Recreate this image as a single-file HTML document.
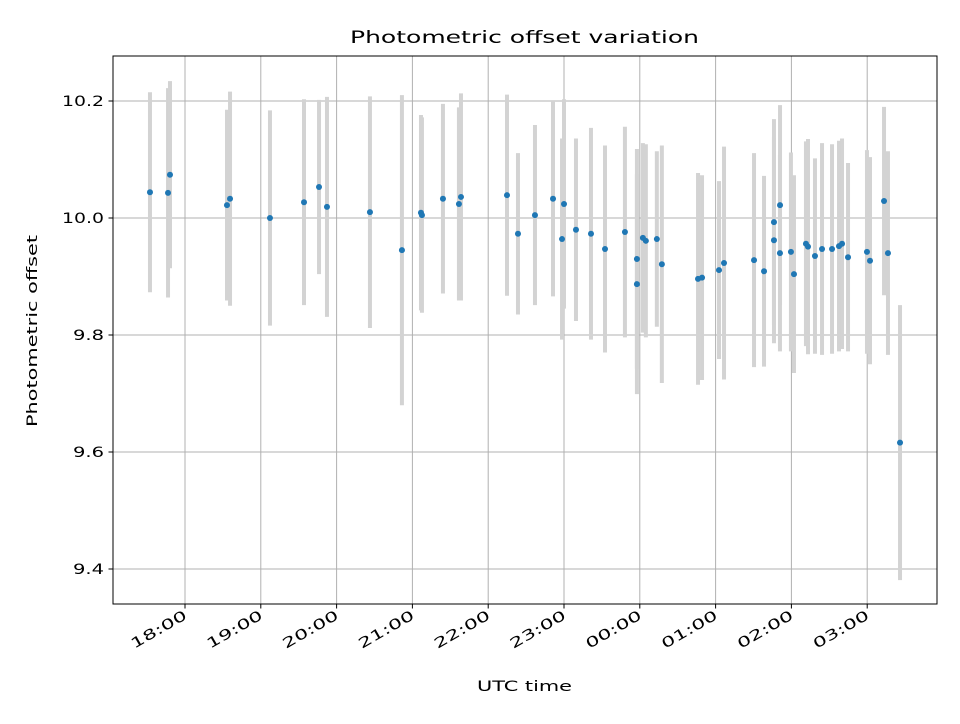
<!DOCTYPE html>
<html><head><meta charset="utf-8"><style>
body{margin:0;background:#fff;font-family:"DejaVu Sans","Liberation Sans",sans-serif;}
svg text{font-family:"DejaVu Sans","Liberation Sans",sans-serif;}
</style></head><body>
<svg id="chart" width="960" height="720" xmlns="http://www.w3.org/2000/svg">
<rect width="960" height="720" fill="#fff"/>
<text x="350" y="43" font-size="17" textLength="349" lengthAdjust="spacingAndGlyphs">Photometric offset variation</text>
<g id="grid"></g>
<g id="bars"></g>
<g id="points"></g>
<rect x="113" y="56" width="824" height="548" fill="none" stroke="#000" stroke-width="1"/>
<g id="axes"></g>
<text x="477" y="691" font-size="14.5" textLength="95" lengthAdjust="spacingAndGlyphs">UTC time</text>
<text transform="translate(37,427) rotate(-90)" font-size="14.5" textLength="192" lengthAdjust="spacingAndGlyphs">Photometric offset</text>
</svg>
<script>
// hours relative to 18:00 UTC
const times=[-0.462,-0.224,-0.198,0.554,0.594,1.121,1.570,1.768,1.873,2.440,2.862,3.113,3.126,3.403,3.614,3.641,4.248,4.393,4.617,4.855,4.974,5.000,5.158,5.356,5.541,5.804,5.962,5.962,6.041,6.080,6.225,6.291,6.768,6.821,7.045,7.111,7.507,7.639,7.770,7.770,7.850,7.849,7.994,8.034,8.192,8.219,8.311,8.404,8.536,8.628,8.668,8.747,8.997,9.037,9.222,9.274,9.433];
const values=[10.044,10.043,10.074,10.022,10.033,10.000,10.027,10.053,10.019,10.010,9.945,10.009,10.005,10.033,10.024,10.036,10.039,9.973,10.005,10.033,9.964,10.024,9.980,9.973,9.947,9.976,9.930,9.887,9.966,9.961,9.964,9.921,9.896,9.898,9.911,9.923,9.928,9.909,9.962,9.993,10.022,9.940,9.942,9.904,9.956,9.951,9.935,9.947,9.947,9.952,9.956,9.933,9.942,9.927,10.029,9.940,9.616];
const errors=[0.171,0.179,0.160,0.163,0.183,0.184,0.176,0.149,0.188,0.198,0.265,0.167,0.167,0.162,0.165,0.177,0.172,0.138,0.154,0.167,0.172,0.179,0.156,0.181,0.177,0.180,0.188,0.188,0.162,0.165,0.150,0.203,0.181,0.175,0.152,0.199,0.183,0.163,0.176,0.176,0.171,0.168,0.170,0.169,0.175,0.184,0.167,0.181,0.179,0.180,0.180,0.161,0.174,0.177,0.161,0.174,0.235];
const xTicks=[0,1,2,3,4,5,6,7,8,9];
const xTickLabels=["18:00","19:00","20:00","21:00","22:00","23:00","00:00","01:00","02:00","03:00"];
const yTicks=[9.4,9.6,9.8,10.0,10.2];
const yTickLabels=["9.4","9.6","9.8","10.0","10.2"];
const NS="http://www.w3.org/2000/svg";
const X=h=>185+h*75.8;
const Y=v=>101+(10.2-v)*585;
function mk(t,a,p){const e=document.createElementNS(NS,t);for(const k in a)e.setAttribute(k,a[k]);p.appendChild(e);return e;}
const grid=document.getElementById('grid'),axes=document.getElementById('axes'),bars=document.getElementById('bars'),pts=document.getElementById('points');
xTicks.forEach((h,i)=>{const x=X(h);
 const g=mk('line',{x1:x,x2:x,y1:56,y2:604,stroke:'#b0b0b0','stroke-width':1},grid);
 
 
 const t=mk('line',{x1:x,x2:x,y1:604,y2:608.5,stroke:'#000'},axes);
 
 
 const l=mk('text',{x:-62,y:0,'font-size':'14',textLength:'62',lengthAdjust:'spacingAndGlyphs',transform:`translate(${x+3},${618}) rotate(-30)`},axes);
 l.textContent=xTickLabels[i];
 
 
});
yTicks.forEach((v,i)=>{const y=Y(v);
 const g=mk('line',{x1:113,x2:937,y1:y,y2:y,stroke:'#b0b0b0','stroke-width':1},grid);
 
 
 const t=mk('line',{x1:108.5,x2:113,y1:y,y2:y,stroke:'#000'},axes);
 
 
 const w=yTickLabels[i].length>3?42:31;
 const l=mk('text',{x:104-w,y:y+5,'font-size':'14',textLength:w,lengthAdjust:'spacingAndGlyphs'},axes);
 l.textContent=yTickLabels[i];
 
 
});
times.forEach((h,i)=>{const x=X(h);
 const b=mk('line',{x1:x,x2:x,y1:Y(values[i]+errors[i]),y2:Y(values[i]-errors[i]),stroke:'#d3d3d3','stroke-width':4},bars);
 
 
});
times.forEach((h,i)=>{
 const c=mk('circle',{cx:X(h),cy:Y(values[i]),r:3,fill:'#1f77b4'},pts);
 
 
});
</script>
</body></html>
